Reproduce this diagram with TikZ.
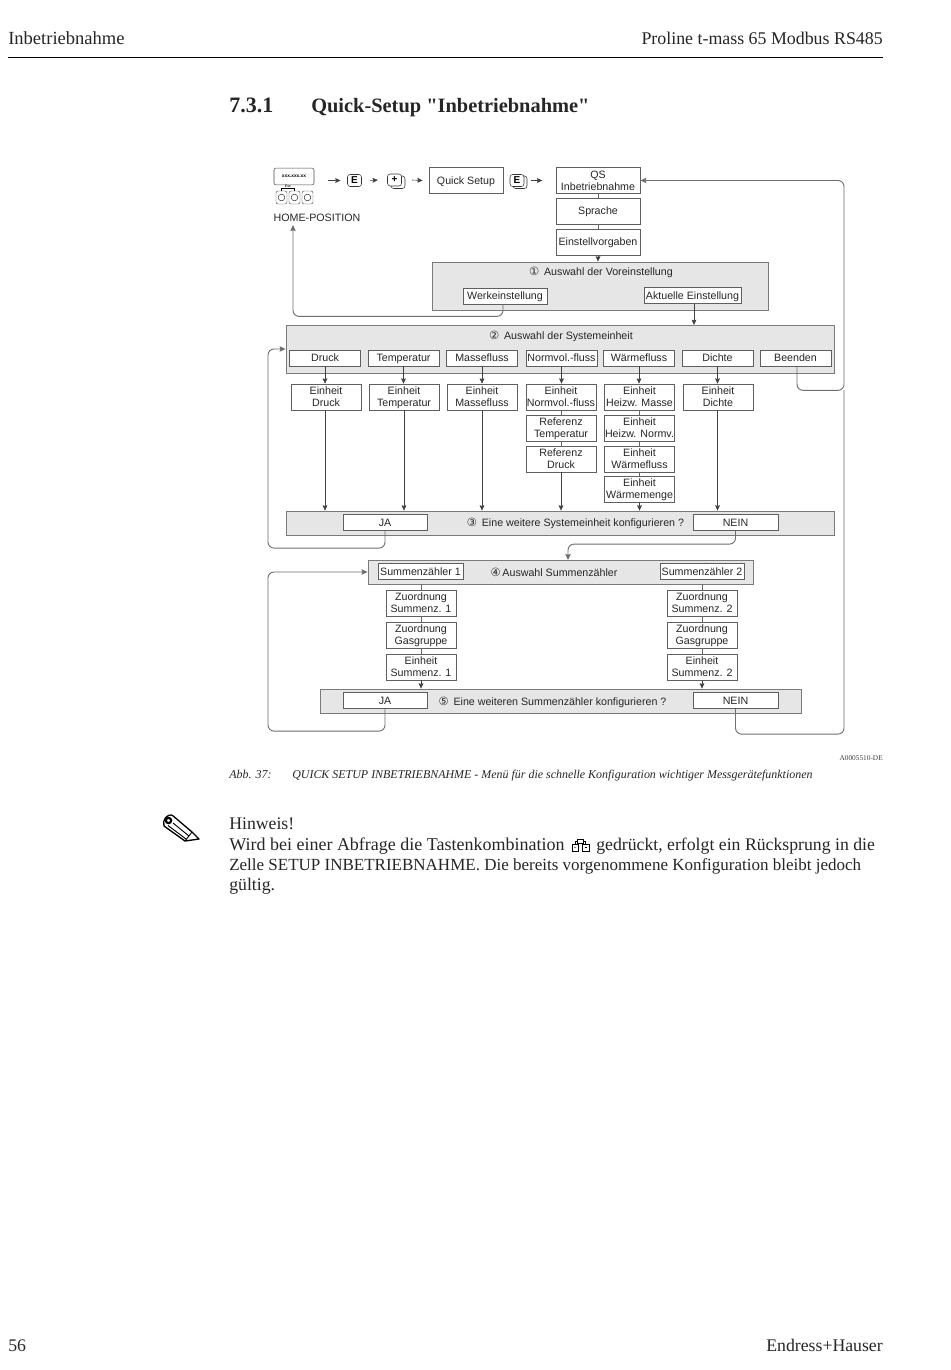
\documentclass[tikz,border=0pt]{standalone}
\usepackage{fontspec}
\setmainfont{Liberation Serif}
\setsansfont{Liberation Sans}
\newfontfamily\symfont{DejaVu Sans}
\newfontfamily\titlefont{Liberation Serif}
\usetikzlibrary{arrows.meta, positioning, calc}
\definecolor{panelgray}{HTML}{E6E6E6}
\definecolor{panelline}{HTML}{7A7A7A}
\definecolor{boxline}{HTML}{5F5F5F}
\definecolor{railgray}{HTML}{6E6E6E}
\definecolor{texgray}{HTML}{262626}

\begin{document}
\begin{tikzpicture}[
  x=0.75pt, y=-0.75pt,
  menubox/.style={draw=boxline, fill=white, line width=0.5pt, inner sep=0pt, align=center,
                  font=\sffamily\fontsize{8}{9}\selectfont, text=texgray, text depth=-1pt,
                  minimum width=52.5pt, minimum height=19.5pt},
  pickbox/.style={menubox, minimum height=12.4pt},
  panelbox/.style={draw=panelline, fill=panelgray, line width=0.6pt, inner sep=0pt},
  paneltext/.style={font=\sffamily\fontsize{8}{9}\selectfont, text=texgray, inner sep=0pt},
  keybox/.style={draw=black!80, fill=white, line width=0.4pt, rounded corners=2pt, inner sep=0pt,
                 minimum width=10.5pt, minimum height=9pt, font=\sffamily\bfseries\fontsize{7.5}{8}\selectfont},
  softkey/.style={draw=black!70, fill=white, line width=0.35pt, rounded corners=1.5pt, inner sep=0pt,
                  minimum width=8.25pt, minimum height=9.75pt},
  arrow/.style={-{Stealth[length=4pt, width=3.6pt, inset=0.6pt]}, line width=0.45pt, color=black!75},
  link/.style={line width=0.45pt, color=black!60},
  looprail/.style={-{Stealth[length=4.5pt, width=4pt, inset=0.6pt]}, line width=0.7pt, color=railgray, rounded corners=4.5pt},
  pagetext/.style={inner sep=0pt, text=black!85, font=\fontsize{13.3}{16}\selectfont}
]
  \path[use as bounding box, fill=white] (0,0) rectangle (950,1370);

  % Page head
  \node[pagetext, anchor=base west, font=\fontsize{13.9}{16}\selectfont] (headl) at (8,45) {Inbetriebnahme};
  \node[pagetext, anchor=base east, font=\fontsize{13.4}{16}\selectfont] (headr) at (883,45) {Proline t-mass 65 Modbus RS485};
  \draw[line width=0.7pt] (8,57) -- (883,57);
  \node[pagetext, anchor=base west, font=\titlefont\bfseries\fontsize{16.5}{18}\selectfont] (secno) at (229,113) {7.3.1};
  \node[pagetext, anchor=base west, font=\titlefont\bfseries\fontsize{15.3}{18}\selectfont] (sectitle) at (311,113) {Quick-Setup "Inbetriebnahme"};

  % Local display and keys
  \node[draw=black!70, rounded corners=1.5pt, line width=0.4pt, minimum width=30pt, minimum height=12.7pt, inner sep=0pt,
        font=\sffamily\bfseries\fontsize{3.6}{4}\selectfont] (disp) at (294,176.5) {xxx.xxx.xx};
  \node[softkey] (keya) at (281.5,197.5) {};
  \node[softkey] (keyb) at (294.5,197.5) {};
  \node[softkey] (keyc) at (307.5,197.5) {};
  \draw[line width=0.3pt] (keya) circle (2.5pt);
  \draw[line width=0.3pt] (keyb) circle (2.5pt);
  \draw[line width=0.3pt] (keyc) circle (2.5pt);
  \draw[line width=0.3pt] (keya.north) -- ++(0,-3) -| (keyb.north);
  \node[font=\sffamily\fontsize{2.8}{3}\selectfont, inner sep=0pt] (esc) at (288,186.5) {Esc};
  \node[paneltext] (home) at (317,217.5) {HOME-POSITION};

  % Top row
  \node[keybox] (ekeya) at (354.5,180.5) {E};
  \draw[keybox, fill=none] (391,176) rectangle (405,188.5);
  \node[keybox] (plus) at (394.5,180) {+};
  \node[menubox, minimum width=55.5pt] (quick) at (466,180.5) {Quick Setup};
  \draw[keybox, fill=none] (513,176) rectangle (527,188.5);
  \node[keybox] (ekeyb) at (517,180.5) {E};
  \node[menubox, minimum width=63pt] (qs) at (598,180.5) {QS\\Inbetriebnahme};
  \node[menubox, minimum width=63pt] (sprache) at (598,211) {Sprache};
  \node[menubox, minimum width=63pt] (vorgaben) at (598,242) {Einstellvorgaben};

  % Panel 1
  \node[panelbox, minimum width=252pt, minimum height=36pt] (panela) at (600,286) {};
  \node[paneltext] (titlea) at (601,272) {{\symfont\fontsize{8.5}{9}\selectfont ①}\, Auswahl der Voreinstellung};
  \node[pickbox, minimum width=63pt, minimum height=12pt] (werk) at (505,296) {Werkeinstellung};
  \node[pickbox, minimum width=72.8pt] (aktuell) at (692.5,295.5) {Aktuelle Einstellung};

  % Panel 2
  \node[panelbox, minimum width=411pt, minimum height=36pt] (panelb) at (560,349) {};
  \node[paneltext] (titleb) at (561,336) {{\symfont\fontsize{8.5}{9}\selectfont ②}\, Auswahl der Systemeinheit};
  \node[pickbox, minimum width=53pt, minimum height=12pt] (druck) at (325,358) {Druck};
  \node[pickbox, minimum width=53pt, minimum height=12pt] (temp) at (403.5,358) {Temperatur};
  \node[pickbox, minimum width=53pt, minimum height=12pt] (masse) at (482,358) {Massefluss};
  \node[pickbox, minimum width=53pt, minimum height=12pt] (normvol) at (561.5,358) {Normvol.-fluss};
  \node[pickbox, minimum width=53pt, minimum height=12pt] (waerme) at (639,358) {Wärmefluss};
  \node[pickbox, minimum width=53pt, minimum height=12pt] (dichte) at (717.5,358) {Dichte};
  \node[pickbox, minimum width=53pt, minimum height=12pt] (beenden) at (795.5,358) {Beenden};

  % Units
  \node[menubox] (edruck) at (326,397) {Einheit\\Druck};
  \node[menubox] (etemp) at (404,397) {Einheit\\Temperatur};
  \node[menubox] (emasse) at (482,397) {Einheit\\Massefluss};
  \node[menubox] (enorm) at (561,397) {Einheit\\Normvol.-fluss};
  \node[menubox] (rtemp) at (561,428) {Referenz\\Temperatur};
  \node[menubox] (rdruck) at (561,459) {Referenz\\Druck};
  \node[menubox] (eheizm) at (639.5,397) {Einheit\\Heizw. Masse};
  \node[menubox] (eheizn) at (639.5,428) {Einheit\\Heizw. Normv.};
  \node[menubox] (ewfluss) at (639.5,459) {Einheit\\Wärmefluss};
  \node[menubox] (ewmenge) at (639.5,489) {Einheit\\Wärmemenge};
  \node[menubox] (edichte) at (718,397) {Einheit\\Dichte};

  % Panel 3
  \node[panelbox, minimum width=411.5pt, minimum height=18pt] (panelc) at (560.5,523) {};
  \node[paneltext] (titlec) at (575.5,523.5) {{\symfont\fontsize{8.5}{9}\selectfont ③}\, Eine weitere Systemeinheit konfigurieren ?};
  \node[pickbox, minimum width=63pt] (jaa) at (385,522.5) {JA};
  \node[pickbox, minimum width=63.5pt] (neina) at (735.5,522.5) {NEIN};

  % Panel 4
  \node[panelbox, minimum width=288.8pt, minimum height=18pt] (paneld) at (560.5,572) {};
  \node[paneltext] (titled) at (554,572.5) {{\symfont\fontsize{8.5}{9}\selectfont ④}\,Auswahl Summenzähler};
  \node[pickbox, minimum width=63.5pt] (suma) at (420.5,571.5) {Summenzähler 1};
  \node[pickbox, minimum width=63pt] (sumb) at (702,571.5) {Summenzähler 2};
  \node[menubox] (zsuma) at (421,603) {Zuordnung\\Summenz. 1};
  \node[menubox] (zgasa) at (421,635) {Zuordnung\\Gasgruppe};
  \node[menubox] (esuma) at (421,667) {Einheit\\Summenz. 1};
  \node[menubox] (zsumb) at (702,603) {Zuordnung\\Summenz. 2};
  \node[menubox] (zgasb) at (702,635) {Zuordnung\\Gasgruppe};
  \node[menubox] (esumb) at (702,667) {Einheit\\Summenz. 2};

  % Panel 5
  \node[panelbox, minimum width=360.8pt, minimum height=18pt] (panele) at (560.5,701) {};
  \node[paneltext] (titlee) at (552.5,702) {{\symfont\fontsize{8.5}{9}\selectfont ⑤}\, Eine weiteren Summenzähler konfigurieren ?};
  \node[pickbox, minimum width=63pt] (jab) at (385,700.5) {JA};
  \node[pickbox, minimum width=63.5pt] (neinb) at (735.5,700.5) {NEIN};

  % Rail corners
  \coordinate (railq) at (844,180.5);
  \coordinate (railm) at (844,390);
  \coordinate (railb) at (268,349);
  \coordinate (raild) at (268,572);
  \coordinate (homeend) at (293,225);
  \coordinate (entryd) at (568,560);

  % Top row arrows
  \draw[arrow, shorten <=10.5pt, shorten >=5pt] (disp.east |- ekeya) -- (ekeya.west);
  \draw[arrow] ([xshift=6.5pt]ekeya.east) -- ([xshift=-7pt]plus.west);
  \draw[arrow] ([xshift=7.5pt]plus.east) -- ([xshift=-4.5pt]quick.west);
  \draw[arrow] ([xshift=5pt]ekeyb.east) -- ([xshift=-10pt]qs.west);
  \draw[link] (qs) -- (sprache);
  \draw[link] (sprache) -- (vorgaben);
  \draw[arrow] (vorgaben) -- (vorgaben |- panela.north);
  \draw[arrow] (aktuell.south -| 694,0) -- (694,325);

  % Selection arrows
  \draw[arrow] (druck.south) -- (druck.south |- edruck.north);
  \draw[arrow] (temp.south) -- (temp.south |- etemp.north);
  \draw[arrow] (masse.south) -- (masse.south |- emasse.north);
  \draw[arrow] (normvol.south) -- (normvol.south |- enorm.north);
  \draw[arrow] (waerme.south) -- (waerme.south |- eheizm.north);
  \draw[arrow] (dichte.south) -- (dichte.south |- edichte.north);
  \draw[link] (enorm) -- (rtemp);
  \draw[link] (rtemp) -- (rdruck);
  \draw[link] (eheizm) -- (eheizn);
  \draw[link] (eheizn) -- (ewfluss);
  \draw[link] (ewfluss) -- (ewmenge);

  % Down to panel 3
  \draw[arrow] (edruck.south -| druck.south) -- (druck.south |- panelc.north);
  \draw[arrow] (etemp.south) -- (etemp.south |- panelc.north);
  \draw[arrow] (emasse.south) -- (emasse.south |- panelc.north);
  \draw[arrow] (rdruck.south) -- (rdruck.south |- panelc.north);
  \draw[arrow] (ewmenge.south) -- (ewmenge.south |- panelc.north);
  \draw[arrow] (edichte.south -| dichte.south) -- (dichte.south |- panelc.north);

  % Totaliser columns
  \draw[link] (zsuma |- paneld.south) -- (zsuma);
  \draw[link] (zsuma) -- (zgasa);
  \draw[link] (zgasa) -- (esuma);
  \draw[arrow] (esuma.south) -- (esuma.south |- panele.north);
  \draw[link] (zsumb |- paneld.south) -- (zsumb);
  \draw[link] (zsumb) -- (zgasb);
  \draw[link] (zgasb) -- (esumb);
  \draw[arrow] (esumb.south) -- (esumb.south |- panele.north);

  % Return rails
  \draw[looprail] (werk.south -| 503,0) -- ++(0,12) -| (homeend);
  \draw[looprail] (beenden.south -| 797,0) -- ++(0,24) -| (railq) -- (qs.east);
  \draw[looprail] (jaa.south) -- ++(0,17) -| (railb) -- (panelb.west |- railb);
  \draw[looprail] (neina.south) -- ++(0,13) -| (entryd);
  \draw[looprail] (jab.south) -- ++(0,22) -| (raild) -- (paneld.west);
  \draw[looprail, -] (neinb.south) -- ++(0,25) -| (railm);

  % Caption
  \node[inner sep=0pt, anchor=base east, font=\fontsize{5.5}{6}\selectfont, text=black!75] (artno) at (883,760) {A0005510-DE};
  \node[pagetext, anchor=base west, font=\itshape\fontsize{9}{11}\selectfont] (abb) at (229,778) {Abb. 37:};
  \node[pagetext, anchor=base west, font=\itshape\fontsize{8.96}{11}\selectfont] (cap) at (292,778) {QUICK SETUP INBETRIEBNAHME - Menü für die schnelle Konfiguration wichtiger Messgerätefunktionen};

  % Pencil
  \draw[line width=1pt, line join=round, fill=white] (172,815) -- (192,832) -- (199,839) -- (185,841) -- (164,826)
    .. controls (162,820) and (167,814) .. (172,815);
  \draw[line width=0.7pt] (192,832) -- (185,841);
  \draw[line width=0.7pt] (173,823) -- (189,836);
  \draw[line width=0.7pt] (168,825.5) -- (186,839);
  \draw[line width=1.6pt, fill=white] (168.5,820.5) circle (2pt);

  % Note
  \node[pagetext, anchor=base west] (hinweis) at (229,829) {Hinweis!};
  \node[pagetext, anchor=base west, font=\fontsize{13.5}{16}\selectfont] (notea) at (229,850) {Wird bei einer Abfrage die Tastenkombination};
  \node[pagetext, anchor=base west] (noteb) at (596,850) {gedrückt, erfolgt ein Rücksprung in die};
  \node[pagetext, anchor=base west, font=\fontsize{12.75}{16}\selectfont] (notec) at (229,870.5) {Zelle SETUP INBETRIEBNAHME. Die bereits vorgenommene Konfiguration bleibt jedoch};
  \node[pagetext, anchor=base west] (noted) at (229,890.5) {gültig.};

  % Key combination in the note
  \draw[line width=0.25pt] (572,844) rectangle (578,851);
  \draw[line width=0.25pt] (582.5,844) rectangle (589,851);
  \draw[line width=0.25pt] (577,839) rectangle (583.5,843);
  \draw[line width=0.25pt] (575,844) -- (575,841) -- (577,841);
  \draw[line width=0.25pt] (585.5,844) -- (585.5,841) -- (583.5,841);
  \fill (575,847.5) circle (0.5pt);
  \draw[line width=0.25pt] (584.5,847.5) -- (587,847.5);

  % Page foot
  \node[pagetext, anchor=base west] (pageno) at (8,1351) {56};
  \node[pagetext, anchor=base east] (maker) at (883,1351) {Endress+Hauser};
\end{tikzpicture}
\end{document}
